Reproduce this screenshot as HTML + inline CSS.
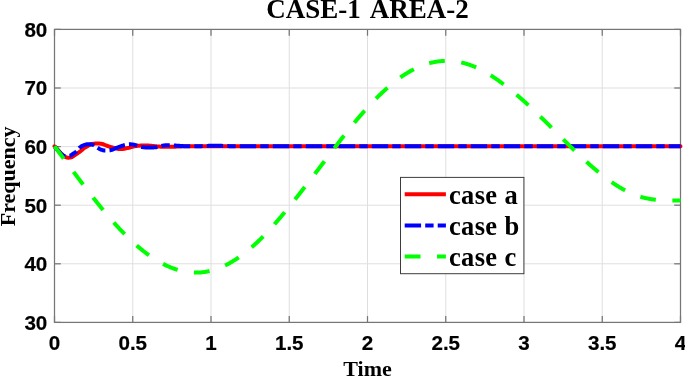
<!DOCTYPE html>
<html><head><meta charset="utf-8"><style>
html,body{margin:0;padding:0;background:#fff;width:685px;height:377px;overflow:hidden}
svg{display:block}
.w{will-change:transform}

</style></head><body><div class="w">
<svg width="685" height="377" viewBox="0 0 685 377">
<g>
<line x1="132.75" y1="29.4" x2="132.75" y2="322.4" stroke="#dfdfdf" stroke-width="1"/>
<line x1="211.0" y1="29.4" x2="211.0" y2="322.4" stroke="#dfdfdf" stroke-width="1"/>
<line x1="289.25" y1="29.4" x2="289.25" y2="322.4" stroke="#dfdfdf" stroke-width="1"/>
<line x1="367.5" y1="29.4" x2="367.5" y2="322.4" stroke="#dfdfdf" stroke-width="1"/>
<line x1="445.75" y1="29.4" x2="445.75" y2="322.4" stroke="#dfdfdf" stroke-width="1"/>
<line x1="524.0" y1="29.4" x2="524.0" y2="322.4" stroke="#dfdfdf" stroke-width="1"/>
<line x1="602.25" y1="29.4" x2="602.25" y2="322.4" stroke="#dfdfdf" stroke-width="1"/>
<line x1="54.5" y1="263.79999999999995" x2="680.5" y2="263.79999999999995" stroke="#dfdfdf" stroke-width="1"/>
<line x1="54.5" y1="205.2" x2="680.5" y2="205.2" stroke="#dfdfdf" stroke-width="1"/>
<line x1="54.5" y1="146.59999999999997" x2="680.5" y2="146.59999999999997" stroke="#dfdfdf" stroke-width="1"/>
<line x1="54.5" y1="87.99999999999997" x2="680.5" y2="87.99999999999997" stroke="#dfdfdf" stroke-width="1"/>
</g>
<g stroke="#767676" stroke-width="1.25" fill="none">
<rect x="54.5" y="29.4" width="626.0" height="293.0"/>
<line x1="54.5" y1="322.4" x2="54.5" y2="316.09999999999997"/>
<line x1="54.5" y1="29.4" x2="54.5" y2="35.699999999999996"/>
<line x1="132.75" y1="322.4" x2="132.75" y2="316.09999999999997"/>
<line x1="132.75" y1="29.4" x2="132.75" y2="35.699999999999996"/>
<line x1="211.0" y1="322.4" x2="211.0" y2="316.09999999999997"/>
<line x1="211.0" y1="29.4" x2="211.0" y2="35.699999999999996"/>
<line x1="289.25" y1="322.4" x2="289.25" y2="316.09999999999997"/>
<line x1="289.25" y1="29.4" x2="289.25" y2="35.699999999999996"/>
<line x1="367.5" y1="322.4" x2="367.5" y2="316.09999999999997"/>
<line x1="367.5" y1="29.4" x2="367.5" y2="35.699999999999996"/>
<line x1="445.75" y1="322.4" x2="445.75" y2="316.09999999999997"/>
<line x1="445.75" y1="29.4" x2="445.75" y2="35.699999999999996"/>
<line x1="524.0" y1="322.4" x2="524.0" y2="316.09999999999997"/>
<line x1="524.0" y1="29.4" x2="524.0" y2="35.699999999999996"/>
<line x1="602.25" y1="322.4" x2="602.25" y2="316.09999999999997"/>
<line x1="602.25" y1="29.4" x2="602.25" y2="35.699999999999996"/>
<line x1="680.5" y1="322.4" x2="680.5" y2="316.09999999999997"/>
<line x1="680.5" y1="29.4" x2="680.5" y2="35.699999999999996"/>
<line x1="54.5" y1="322.4" x2="60.8" y2="322.4"/>
<line x1="680.5" y1="322.4" x2="674.2" y2="322.4"/>
<line x1="54.5" y1="263.79999999999995" x2="60.8" y2="263.79999999999995"/>
<line x1="680.5" y1="263.79999999999995" x2="674.2" y2="263.79999999999995"/>
<line x1="54.5" y1="205.2" x2="60.8" y2="205.2"/>
<line x1="680.5" y1="205.2" x2="674.2" y2="205.2"/>
<line x1="54.5" y1="146.59999999999997" x2="60.8" y2="146.59999999999997"/>
<line x1="680.5" y1="146.59999999999997" x2="674.2" y2="146.59999999999997"/>
<line x1="54.5" y1="87.99999999999997" x2="60.8" y2="87.99999999999997"/>
<line x1="680.5" y1="87.99999999999997" x2="674.2" y2="87.99999999999997"/>
<line x1="54.5" y1="29.399999999999977" x2="60.8" y2="29.399999999999977"/>
<line x1="680.5" y1="29.399999999999977" x2="674.2" y2="29.399999999999977"/>
</g>
<g fill="none" stroke-width="4">
<path d="M54.50,146.30 L55.00,146.81 L55.50,147.33 L56.00,147.86 L56.50,148.39 L57.00,148.92 L57.50,149.46 L58.00,150.00 L58.50,150.56 L59.00,151.15 L59.50,151.74 L60.00,152.34 L60.50,152.93 L61.00,153.49 L61.50,154.02 L62.00,154.50 L62.50,154.96 L63.00,155.41 L63.50,155.83 L64.00,156.22 L64.50,156.55 L65.00,156.80 L65.50,157.01 L66.00,157.20 L66.50,157.38 L67.00,157.53 L67.50,157.64 L68.00,157.69 L68.50,157.69 L69.00,157.66 L69.50,157.61 L70.00,157.53 L70.50,157.43 L71.00,157.32 L71.50,157.20 L72.00,157.01 L72.50,156.71 L73.00,156.35 L73.50,155.97 L74.00,155.64 L74.50,155.32 L75.00,154.99 L75.50,154.67 L76.00,154.34 L76.50,154.01 L77.00,153.68 L77.50,153.33 L78.00,152.98 L78.50,152.63 L79.00,152.27 L79.50,151.90 L80.00,151.53 L80.50,151.15 L81.00,150.76 L81.50,150.35 L82.00,149.91 L82.50,149.46 L83.00,149.01 L83.50,148.58 L84.00,148.20 L84.50,147.86 L85.00,147.53 L85.50,147.23 L86.00,146.94 L86.50,146.66 L87.00,146.40 L87.50,146.14 L88.00,145.86 L88.50,145.58 L89.00,145.31 L89.50,145.04 L90.00,144.78 L90.50,144.54 L91.00,144.32 L91.50,144.13 L92.00,143.98 L92.50,143.86 L93.00,143.79 L93.50,143.73 L94.00,143.68 L94.50,143.64 L95.00,143.59 L95.50,143.56 L96.00,143.53 L96.50,143.51 L97.00,143.50 L97.50,143.50 L98.00,143.51 L98.50,143.53 L99.00,143.56 L99.50,143.60 L100.00,143.65 L100.50,143.71 L101.00,143.77 L101.50,143.83 L102.00,143.90 L102.50,144.00 L103.00,144.15 L103.50,144.34 L104.00,144.55 L104.50,144.77 L105.00,145.00 L105.50,145.21 L106.00,145.40 L106.50,145.57 L107.00,145.75 L107.50,145.93 L108.00,146.10 L108.50,146.27 L109.00,146.45 L109.50,146.61 L110.00,146.78 L110.50,146.94 L111.00,147.09 L111.50,147.24 L112.00,147.39 L112.50,147.52 L113.00,147.65 L113.50,147.77 L114.00,147.90 L114.50,148.03 L115.00,148.16 L115.50,148.29 L116.00,148.42 L116.50,148.54 L117.00,148.65 L117.50,148.76 L118.00,148.85 L118.50,148.94 L119.00,149.01 L119.50,149.06 L120.00,149.09 L120.50,149.10 L121.00,149.09 L121.50,149.07 L122.00,149.03 L122.50,148.97 L123.00,148.91 L123.50,148.83 L124.00,148.75 L124.50,148.66 L125.00,148.56 L125.50,148.46 L126.00,148.36 L126.50,148.26 L127.00,148.16 L127.50,148.06 L128.00,147.96 L128.50,147.86 L129.00,147.74 L129.50,147.61 L130.00,147.47 L130.50,147.33 L131.00,147.19 L131.50,147.04 L132.00,146.90 L132.50,146.76 L133.00,146.63 L133.50,146.51 L134.00,146.40 L134.50,146.30 L135.00,146.21 L135.50,146.14 L136.00,146.07 L136.50,146.00 L137.00,145.93 L137.50,145.86 L138.00,145.80 L138.50,145.75 L139.00,145.70 L139.50,145.66 L140.00,145.63 L140.50,145.61 L141.00,145.60 L141.50,145.60 L142.00,145.60 L142.50,145.60 L143.00,145.60 L143.50,145.60 L144.00,145.60 L144.50,145.60 L145.00,145.60 L145.50,145.60 L146.00,145.60 L146.50,145.60 L147.00,145.60 L147.50,145.60 L148.00,145.60 L148.50,145.61 L149.00,145.62 L149.50,145.65 L150.00,145.69 L150.50,145.73 L151.00,145.78 L151.50,145.83 L152.00,145.89 L152.50,145.94 L153.00,146.00 L153.50,146.06 L154.00,146.11 L154.50,146.16 L155.00,146.20 L155.50,146.24 L156.00,146.28 L156.50,146.33 L157.00,146.37 L157.50,146.41 L158.00,146.46 L158.50,146.50 L159.00,146.54 L159.50,146.57 L160.00,146.61 L160.50,146.64 L161.00,146.66 L161.50,146.69 L162.00,146.70 L162.50,146.71 L163.00,146.72 L163.50,146.73 L164.00,146.74 L164.50,146.75 L165.00,146.76 L165.50,146.77 L166.00,146.78 L166.50,146.78 L167.00,146.79 L167.50,146.79 L168.00,146.80 L168.50,146.80 L169.00,146.80 L169.50,146.80 L170.00,146.79 L170.50,146.79 L171.00,146.78 L171.50,146.77 L172.00,146.76 L172.50,146.74 L173.00,146.73 L173.50,146.71 L174.00,146.70 L174.50,146.68 L175.00,146.67 L175.50,146.65 L176.00,146.63 L176.50,146.62 L177.00,146.60 L177.50,146.58 L178.00,146.57 L178.50,146.55 L179.00,146.53 L179.50,146.50 L180.00,146.48 L180.50,146.46 L181.00,146.44 L181.50,146.41 L182.00,146.39 L182.50,146.37 L183.00,146.35 L183.50,146.34 L184.00,146.32 L184.50,146.31 L185.00,146.30 L185.50,146.29 L186.00,146.28 L186.50,146.28 L187.00,146.27 L187.50,146.26 L188.00,146.25 L188.50,146.25 L189.00,146.24 L189.50,146.24 L190.00,146.23 L190.50,146.22 L191.00,146.22 L191.50,146.22 L192.00,146.21 L192.50,146.21 L193.00,146.21 L193.50,146.20 L194.00,146.20 L194.50,146.20 L195.00,146.20 L195.50,146.20 L196.00,146.20 L196.50,146.20 L197.00,146.20 L197.50,146.20 L198.00,146.20 L198.50,146.20 L199.00,146.20 L199.50,146.20 L200.00,146.20 L200.50,146.20 L201.00,146.20 L201.50,146.20 L202.00,146.20 L202.50,146.20 L203.00,146.20 L203.50,146.20 L204.00,146.20 L204.50,146.20 L205.00,146.20 L205.50,146.20 L206.00,146.20 L206.50,146.20 L207.00,146.20 L207.50,146.20 L208.00,146.20 L208.50,146.20 L209.00,146.20 L209.50,146.20 L210.00,146.20 L210.50,146.20 L211.00,146.20 L211.50,146.20 L212.00,146.20 L212.50,146.20 L213.00,146.20 L213.50,146.20 L214.00,146.20 L214.50,146.20 L215.00,146.20 L215.50,146.20 L216.00,146.20 L216.50,146.20 L217.00,146.20 L217.50,146.20 L218.00,146.20 L218.50,146.20 L219.00,146.20 L219.50,146.20 L220.00,146.20 L220.50,146.20 L221.00,146.20 L221.50,146.20 L222.00,146.20 L222.50,146.20 L223.00,146.20 L223.50,146.20 L224.00,146.20 L224.50,146.20 L225.00,146.20 L225.50,146.20 L226.00,146.20 L226.50,146.20 L227.00,146.20 L227.50,146.20 L228.00,146.20 L228.50,146.20 L229.00,146.20 L229.50,146.20 L230.00,146.20 L230.50,146.20 L231.00,146.20 L231.50,146.20 L232.00,146.20 L232.50,146.20 L233.00,146.20 L233.50,146.20 L234.00,146.20 L234.50,146.20 L235.00,146.20 L235.50,146.20 L236.00,146.20 L236.50,146.20 L237.00,146.20 L237.50,146.20 L238.00,146.20 L238.50,146.20 L239.00,146.20 L239.50,146.20 L240.00,146.20 L240.50,146.20 L241.00,146.20 L241.50,146.20 L242.00,146.20 L242.50,146.20 L243.00,146.20 L243.50,146.20 L244.00,146.20 L244.50,146.20 L245.00,146.20 L245.50,146.20 L246.00,146.20 L246.50,146.20 L247.00,146.20 L247.50,146.20 L248.00,146.20 L248.50,146.20 L249.00,146.20 L249.50,146.20 L250.00,146.20 L250.50,146.20 L251.00,146.20 L251.50,146.20 L252.00,146.20 L252.50,146.20 L253.00,146.20 L253.50,146.20 L254.00,146.20 L254.50,146.20 L255.00,146.20 L255.50,146.20 L256.00,146.20 L256.50,146.20 L257.00,146.20 L257.50,146.20 L258.00,146.20 L258.50,146.20 L259.00,146.20 L259.50,146.20 L260.00,146.20 L260.50,146.20 L261.00,146.20 L261.50,146.20 L262.00,146.20 L262.50,146.20 L263.00,146.20 L263.50,146.20 L264.00,146.20 L264.50,146.20 L265.00,146.20 L265.50,146.20 L266.00,146.20 L266.50,146.20 L267.00,146.20 L267.50,146.20 L268.00,146.20 L268.50,146.20 L269.00,146.20 L269.50,146.20 L270.00,146.20 L270.50,146.20 L271.00,146.20 L271.50,146.20 L272.00,146.20 L272.50,146.20 L273.00,146.20 L273.50,146.20 L274.00,146.20 L274.50,146.20 L275.00,146.20 L275.50,146.20 L276.00,146.20 L276.50,146.20 L277.00,146.20 L277.50,146.20 L278.00,146.20 L278.50,146.20 L279.00,146.20 L279.50,146.20 L280.00,146.20 L280.50,146.20 L281.00,146.20 L281.50,146.20 L282.00,146.20 L282.50,146.20 L283.00,146.20 L283.50,146.20 L284.00,146.20 L284.50,146.20 L285.00,146.20 L285.50,146.20 L286.00,146.20 L286.50,146.20 L287.00,146.20 L287.50,146.20 L288.00,146.20 L288.50,146.20 L289.00,146.20 L289.50,146.20 L290.00,146.20 L290.50,146.20 L291.00,146.20 L291.50,146.20 L292.00,146.20 L292.50,146.20 L293.00,146.20 L293.50,146.20 L294.00,146.20 L294.50,146.20 L295.00,146.20 L295.50,146.20 L296.00,146.20 L296.50,146.20 L297.00,146.20 L297.50,146.20 L298.00,146.20 L298.50,146.20 L299.00,146.20 L299.50,146.20 L300.00,146.20 L300.50,146.20 L301.00,146.20 L301.50,146.20 L302.00,146.20 L302.50,146.20 L303.00,146.20 L303.50,146.20 L304.00,146.20 L304.50,146.20 L305.00,146.20 L305.50,146.20 L306.00,146.20 L306.50,146.20 L307.00,146.20 L307.50,146.20 L308.00,146.20 L308.50,146.20 L309.00,146.20 L309.50,146.20 L310.00,146.20 L310.50,146.20 L311.00,146.20 L311.50,146.20 L312.00,146.20 L312.50,146.20 L313.00,146.20 L313.50,146.20 L314.00,146.20 L314.50,146.20 L315.00,146.20 L315.50,146.20 L316.00,146.20 L316.50,146.20 L317.00,146.20 L317.50,146.20 L318.00,146.20 L318.50,146.20 L319.00,146.20 L319.50,146.20 L320.00,146.20 L320.50,146.20 L321.00,146.20 L321.50,146.20 L322.00,146.20 L322.50,146.20 L323.00,146.20 L323.50,146.20 L324.00,146.20 L324.50,146.20 L325.00,146.20 L325.50,146.20 L326.00,146.20 L326.50,146.20 L327.00,146.20 L327.50,146.20 L328.00,146.20 L328.50,146.20 L329.00,146.20 L329.50,146.20 L330.00,146.20 L330.50,146.20 L331.00,146.20 L331.50,146.20 L332.00,146.20 L332.50,146.20 L333.00,146.20 L333.50,146.20 L334.00,146.20 L334.50,146.20 L335.00,146.20 L335.50,146.20 L336.00,146.20 L336.50,146.20 L337.00,146.20 L337.50,146.20 L338.00,146.20 L338.50,146.20 L339.00,146.20 L339.50,146.20 L340.00,146.20 L340.50,146.20 L341.00,146.20 L341.50,146.20 L342.00,146.20 L342.50,146.20 L343.00,146.20 L343.50,146.20 L344.00,146.20 L344.50,146.20 L345.00,146.20 L345.50,146.20 L346.00,146.20 L346.50,146.20 L347.00,146.20 L347.50,146.20 L348.00,146.20 L348.50,146.20 L349.00,146.20 L349.50,146.20 L350.00,146.20 L350.50,146.20 L351.00,146.20 L351.50,146.20 L352.00,146.20 L352.50,146.20 L353.00,146.20 L353.50,146.20 L354.00,146.20 L354.50,146.20 L355.00,146.20 L355.50,146.20 L356.00,146.20 L356.50,146.20 L357.00,146.20 L357.50,146.20 L358.00,146.20 L358.50,146.20 L359.00,146.20 L359.50,146.20 L360.00,146.20 L360.50,146.20 L361.00,146.20 L361.50,146.20 L362.00,146.20 L362.50,146.20 L363.00,146.20 L363.50,146.20 L364.00,146.20 L364.50,146.20 L365.00,146.20 L365.50,146.20 L366.00,146.20 L366.50,146.20 L367.00,146.20 L367.50,146.20 L368.00,146.20 L368.50,146.20 L369.00,146.20 L369.50,146.20 L370.00,146.20 L370.50,146.20 L371.00,146.20 L371.50,146.20 L372.00,146.20 L372.50,146.20 L373.00,146.20 L373.50,146.20 L374.00,146.20 L374.50,146.20 L375.00,146.20 L375.50,146.20 L376.00,146.20 L376.50,146.20 L377.00,146.20 L377.50,146.20 L378.00,146.20 L378.50,146.20 L379.00,146.20 L379.50,146.20 L380.00,146.20 L380.50,146.20 L381.00,146.20 L381.50,146.20 L382.00,146.20 L382.50,146.20 L383.00,146.20 L383.50,146.20 L384.00,146.20 L384.50,146.20 L385.00,146.20 L385.50,146.20 L386.00,146.20 L386.50,146.20 L387.00,146.20 L387.50,146.20 L388.00,146.20 L388.50,146.20 L389.00,146.20 L389.50,146.20 L390.00,146.20 L390.50,146.20 L391.00,146.20 L391.50,146.20 L392.00,146.20 L392.50,146.20 L393.00,146.20 L393.50,146.20 L394.00,146.20 L394.50,146.20 L395.00,146.20 L395.50,146.20 L396.00,146.20 L396.50,146.20 L397.00,146.20 L397.50,146.20 L398.00,146.20 L398.50,146.20 L399.00,146.20 L399.50,146.20 L400.00,146.20 L400.50,146.20 L401.00,146.20 L401.50,146.20 L402.00,146.20 L402.50,146.20 L403.00,146.20 L403.50,146.20 L404.00,146.20 L404.50,146.20 L405.00,146.20 L405.50,146.20 L406.00,146.20 L406.50,146.20 L407.00,146.20 L407.50,146.20 L408.00,146.20 L408.50,146.20 L409.00,146.20 L409.50,146.20 L410.00,146.20 L410.50,146.20 L411.00,146.20 L411.50,146.20 L412.00,146.20 L412.50,146.20 L413.00,146.20 L413.50,146.20 L414.00,146.20 L414.50,146.20 L415.00,146.20 L415.50,146.20 L416.00,146.20 L416.50,146.20 L417.00,146.20 L417.50,146.20 L418.00,146.20 L418.50,146.20 L419.00,146.20 L419.50,146.20 L420.00,146.20 L420.50,146.20 L421.00,146.20 L421.50,146.20 L422.00,146.20 L422.50,146.20 L423.00,146.20 L423.50,146.20 L424.00,146.20 L424.50,146.20 L425.00,146.20 L425.50,146.20 L426.00,146.20 L426.50,146.20 L427.00,146.20 L427.50,146.20 L428.00,146.20 L428.50,146.20 L429.00,146.20 L429.50,146.20 L430.00,146.20 L430.50,146.20 L431.00,146.20 L431.50,146.20 L432.00,146.20 L432.50,146.20 L433.00,146.20 L433.50,146.20 L434.00,146.20 L434.50,146.20 L435.00,146.20 L435.50,146.20 L436.00,146.20 L436.50,146.20 L437.00,146.20 L437.50,146.20 L438.00,146.20 L438.50,146.20 L439.00,146.20 L439.50,146.20 L440.00,146.20 L440.50,146.20 L441.00,146.20 L441.50,146.20 L442.00,146.20 L442.50,146.20 L443.00,146.20 L443.50,146.20 L444.00,146.20 L444.50,146.20 L445.00,146.20 L445.50,146.20 L446.00,146.20 L446.50,146.20 L447.00,146.20 L447.50,146.20 L448.00,146.20 L448.50,146.20 L449.00,146.20 L449.50,146.20 L450.00,146.20 L450.50,146.20 L451.00,146.20 L451.50,146.20 L452.00,146.20 L452.50,146.20 L453.00,146.20 L453.50,146.20 L454.00,146.20 L454.50,146.20 L455.00,146.20 L455.50,146.20 L456.00,146.20 L456.50,146.20 L457.00,146.20 L457.50,146.20 L458.00,146.20 L458.50,146.20 L459.00,146.20 L459.50,146.20 L460.00,146.20 L460.50,146.20 L461.00,146.20 L461.50,146.20 L462.00,146.20 L462.50,146.20 L463.00,146.20 L463.50,146.20 L464.00,146.20 L464.50,146.20 L465.00,146.20 L465.50,146.20 L466.00,146.20 L466.50,146.20 L467.00,146.20 L467.50,146.20 L468.00,146.20 L468.50,146.20 L469.00,146.20 L469.50,146.20 L470.00,146.20 L470.50,146.20 L471.00,146.20 L471.50,146.20 L472.00,146.20 L472.50,146.20 L473.00,146.20 L473.50,146.20 L474.00,146.20 L474.50,146.20 L475.00,146.20 L475.50,146.20 L476.00,146.20 L476.50,146.20 L477.00,146.20 L477.50,146.20 L478.00,146.20 L478.50,146.20 L479.00,146.20 L479.50,146.20 L480.00,146.20 L480.50,146.20 L481.00,146.20 L481.50,146.20 L482.00,146.20 L482.50,146.20 L483.00,146.20 L483.50,146.20 L484.00,146.20 L484.50,146.20 L485.00,146.20 L485.50,146.20 L486.00,146.20 L486.50,146.20 L487.00,146.20 L487.50,146.20 L488.00,146.20 L488.50,146.20 L489.00,146.20 L489.50,146.20 L490.00,146.20 L490.50,146.20 L491.00,146.20 L491.50,146.20 L492.00,146.20 L492.50,146.20 L493.00,146.20 L493.50,146.20 L494.00,146.20 L494.50,146.20 L495.00,146.20 L495.50,146.20 L496.00,146.20 L496.50,146.20 L497.00,146.20 L497.50,146.20 L498.00,146.20 L498.50,146.20 L499.00,146.20 L499.50,146.20 L500.00,146.20 L500.50,146.20 L501.00,146.20 L501.50,146.20 L502.00,146.20 L502.50,146.20 L503.00,146.20 L503.50,146.20 L504.00,146.20 L504.50,146.20 L505.00,146.20 L505.50,146.20 L506.00,146.20 L506.50,146.20 L507.00,146.20 L507.50,146.20 L508.00,146.20 L508.50,146.20 L509.00,146.20 L509.50,146.20 L510.00,146.20 L510.50,146.20 L511.00,146.20 L511.50,146.20 L512.00,146.20 L512.50,146.20 L513.00,146.20 L513.50,146.20 L514.00,146.20 L514.50,146.20 L515.00,146.20 L515.50,146.20 L516.00,146.20 L516.50,146.20 L517.00,146.20 L517.50,146.20 L518.00,146.20 L518.50,146.20 L519.00,146.20 L519.50,146.20 L520.00,146.20 L520.50,146.20 L521.00,146.20 L521.50,146.20 L522.00,146.20 L522.50,146.20 L523.00,146.20 L523.50,146.20 L524.00,146.20 L524.50,146.20 L525.00,146.20 L525.50,146.20 L526.00,146.20 L526.50,146.20 L527.00,146.20 L527.50,146.20 L528.00,146.20 L528.50,146.20 L529.00,146.20 L529.50,146.20 L530.00,146.20 L530.50,146.20 L531.00,146.20 L531.50,146.20 L532.00,146.20 L532.50,146.20 L533.00,146.20 L533.50,146.20 L534.00,146.20 L534.50,146.20 L535.00,146.20 L535.50,146.20 L536.00,146.20 L536.50,146.20 L537.00,146.20 L537.50,146.20 L538.00,146.20 L538.50,146.20 L539.00,146.20 L539.50,146.20 L540.00,146.20 L540.50,146.20 L541.00,146.20 L541.50,146.20 L542.00,146.20 L542.50,146.20 L543.00,146.20 L543.50,146.20 L544.00,146.20 L544.50,146.20 L545.00,146.20 L545.50,146.20 L546.00,146.20 L546.50,146.20 L547.00,146.20 L547.50,146.20 L548.00,146.20 L548.50,146.20 L549.00,146.20 L549.50,146.20 L550.00,146.20 L550.50,146.20 L551.00,146.20 L551.50,146.20 L552.00,146.20 L552.50,146.20 L553.00,146.20 L553.50,146.20 L554.00,146.20 L554.50,146.20 L555.00,146.20 L555.50,146.20 L556.00,146.20 L556.50,146.20 L557.00,146.20 L557.50,146.20 L558.00,146.20 L558.50,146.20 L559.00,146.20 L559.50,146.20 L560.00,146.20 L560.50,146.20 L561.00,146.20 L561.50,146.20 L562.00,146.20 L562.50,146.20 L563.00,146.20 L563.50,146.20 L564.00,146.20 L564.50,146.20 L565.00,146.20 L565.50,146.20 L566.00,146.20 L566.50,146.20 L567.00,146.20 L567.50,146.20 L568.00,146.20 L568.50,146.20 L569.00,146.20 L569.50,146.20 L570.00,146.20 L570.50,146.20 L571.00,146.20 L571.50,146.20 L572.00,146.20 L572.50,146.20 L573.00,146.20 L573.50,146.20 L574.00,146.20 L574.50,146.20 L575.00,146.20 L575.50,146.20 L576.00,146.20 L576.50,146.20 L577.00,146.20 L577.50,146.20 L578.00,146.20 L578.50,146.20 L579.00,146.20 L579.50,146.20 L580.00,146.20 L580.50,146.20 L581.00,146.20 L581.50,146.20 L582.00,146.20 L582.50,146.20 L583.00,146.20 L583.50,146.20 L584.00,146.20 L584.50,146.20 L585.00,146.20 L585.50,146.20 L586.00,146.20 L586.50,146.20 L587.00,146.20 L587.50,146.20 L588.00,146.20 L588.50,146.20 L589.00,146.20 L589.50,146.20 L590.00,146.20 L590.50,146.20 L591.00,146.20 L591.50,146.20 L592.00,146.20 L592.50,146.20 L593.00,146.20 L593.50,146.20 L594.00,146.20 L594.50,146.20 L595.00,146.20 L595.50,146.20 L596.00,146.20 L596.50,146.20 L597.00,146.20 L597.50,146.20 L598.00,146.20 L598.50,146.20 L599.00,146.20 L599.50,146.20 L600.00,146.20 L600.50,146.20 L601.00,146.20 L601.50,146.20 L602.00,146.20 L602.50,146.20 L603.00,146.20 L603.50,146.20 L604.00,146.20 L604.50,146.20 L605.00,146.20 L605.50,146.20 L606.00,146.20 L606.50,146.20 L607.00,146.20 L607.50,146.20 L608.00,146.20 L608.50,146.20 L609.00,146.20 L609.50,146.20 L610.00,146.20 L610.50,146.20 L611.00,146.20 L611.50,146.20 L612.00,146.20 L612.50,146.20 L613.00,146.20 L613.50,146.20 L614.00,146.20 L614.50,146.20 L615.00,146.20 L615.50,146.20 L616.00,146.20 L616.50,146.20 L617.00,146.20 L617.50,146.20 L618.00,146.20 L618.50,146.20 L619.00,146.20 L619.50,146.20 L620.00,146.20 L620.50,146.20 L621.00,146.20 L621.50,146.20 L622.00,146.20 L622.50,146.20 L623.00,146.20 L623.50,146.20 L624.00,146.20 L624.50,146.20 L625.00,146.20 L625.50,146.20 L626.00,146.20 L626.50,146.20 L627.00,146.20 L627.50,146.20 L628.00,146.20 L628.50,146.20 L629.00,146.20 L629.50,146.20 L630.00,146.20 L630.50,146.20 L631.00,146.20 L631.50,146.20 L632.00,146.20 L632.50,146.20 L633.00,146.20 L633.50,146.20 L634.00,146.20 L634.50,146.20 L635.00,146.20 L635.50,146.20 L636.00,146.20 L636.50,146.20 L637.00,146.20 L637.50,146.20 L638.00,146.20 L638.50,146.20 L639.00,146.20 L639.50,146.20 L640.00,146.20 L640.50,146.20 L641.00,146.20 L641.50,146.20 L642.00,146.20 L642.50,146.20 L643.00,146.20 L643.50,146.20 L644.00,146.20 L644.50,146.20 L645.00,146.20 L645.50,146.20 L646.00,146.20 L646.50,146.20 L647.00,146.20 L647.50,146.20 L648.00,146.20 L648.50,146.20 L649.00,146.20 L649.50,146.20 L650.00,146.20 L650.50,146.20 L651.00,146.20 L651.50,146.20 L652.00,146.20 L652.50,146.20 L653.00,146.20 L653.50,146.20 L654.00,146.20 L654.50,146.20 L655.00,146.20 L655.50,146.20 L656.00,146.20 L656.50,146.20 L657.00,146.20 L657.50,146.20 L658.00,146.20 L658.50,146.20 L659.00,146.20 L659.50,146.20 L660.00,146.20 L660.50,146.20 L661.00,146.20 L661.50,146.20 L662.00,146.20 L662.50,146.20 L663.00,146.20 L663.50,146.20 L664.00,146.20 L664.50,146.20 L665.00,146.20 L665.50,146.20 L666.00,146.20 L666.50,146.20 L667.00,146.20 L667.50,146.20 L668.00,146.20 L668.50,146.20 L669.00,146.20 L669.50,146.20 L670.00,146.20 L670.50,146.20 L671.00,146.20 L671.50,146.20 L672.00,146.20 L672.50,146.20 L673.00,146.20 L673.50,146.20 L674.00,146.20 L674.50,146.20 L675.00,146.20 L675.50,146.20 L676.00,146.20 L676.50,146.20 L677.00,146.20 L677.50,146.20 L678.00,146.20 L678.50,146.20 L679.00,146.20 L679.50,146.20 L680.00,146.20 L680.50,146.20" stroke="#ff0000" stroke-linejoin="round" stroke-linecap="round"/>
<path d="M54.50,146.30 L55.00,146.94 L55.50,147.57 L56.00,148.18 L56.50,148.79 L57.00,149.37 L57.50,149.94 L58.00,150.50 L58.50,151.05 L59.00,151.62 L59.50,152.18 L60.00,152.72 L60.50,153.24 L61.00,153.71 L61.50,154.14 L62.00,154.50 L62.50,154.83 L63.00,155.17 L63.50,155.49 L64.00,155.77 L64.50,156.00 L65.00,156.15 L65.50,156.20 L66.00,156.19 L66.50,156.18 L67.00,156.15 L67.50,156.10 L68.00,156.05 L68.50,155.99 L69.00,155.93 L69.50,155.85 L70.00,155.76 L70.50,155.56 L71.00,155.27 L71.50,154.92 L72.00,154.54 L72.50,154.15 L73.00,153.80 L73.50,153.48 L74.00,153.17 L74.50,152.86 L75.00,152.53 L75.50,152.19 L76.00,151.81 L76.50,151.40 L77.00,150.89 L77.50,150.28 L78.00,149.60 L78.50,148.93 L79.00,148.30 L79.50,147.77 L80.00,147.36 L80.50,146.99 L81.00,146.63 L81.50,146.30 L82.00,146.00 L82.50,145.72 L83.00,145.48 L83.50,145.27 L84.00,145.10 L84.50,144.95 L85.00,144.81 L85.50,144.67 L86.00,144.54 L86.50,144.43 L87.00,144.33 L87.50,144.26 L88.00,144.22 L88.50,144.20 L89.00,144.21 L89.50,144.24 L90.00,144.29 L90.50,144.35 L91.00,144.43 L91.50,144.52 L92.00,144.62 L92.50,144.73 L93.00,144.85 L93.50,144.97 L94.00,145.14 L94.50,145.40 L95.00,145.73 L95.50,146.12 L96.00,146.54 L96.50,146.96 L97.00,147.37 L97.50,147.75 L98.00,148.06 L98.50,148.35 L99.00,148.64 L99.50,148.92 L100.00,149.19 L100.50,149.43 L101.00,149.63 L101.50,149.80 L102.00,149.94 L102.50,150.08 L103.00,150.22 L103.50,150.33 L104.00,150.42 L104.50,150.48 L105.00,150.50 L105.50,150.50 L106.00,150.48 L106.50,150.47 L107.00,150.45 L107.50,150.42 L108.00,150.40 L108.50,150.37 L109.00,150.34 L109.50,150.29 L110.00,150.24 L110.50,150.17 L111.00,150.08 L111.50,149.95 L112.00,149.79 L112.50,149.61 L113.00,149.42 L113.50,149.21 L114.00,148.99 L114.50,148.76 L115.00,148.53 L115.50,148.31 L116.00,148.09 L116.50,147.89 L117.00,147.70 L117.50,147.52 L118.00,147.33 L118.50,147.15 L119.00,146.96 L119.50,146.77 L120.00,146.58 L120.50,146.40 L121.00,146.22 L121.50,146.04 L122.00,145.87 L122.50,145.70 L123.00,145.54 L123.50,145.39 L124.00,145.25 L124.50,145.12 L125.00,145.00 L125.50,144.87 L126.00,144.74 L126.50,144.62 L127.00,144.50 L127.50,144.39 L128.00,144.31 L128.50,144.24 L129.00,144.21 L129.50,144.20 L130.00,144.22 L130.50,144.26 L131.00,144.31 L131.50,144.38 L132.00,144.45 L132.50,144.53 L133.00,144.60 L133.50,144.68 L134.00,144.77 L134.50,144.88 L135.00,144.99 L135.50,145.11 L136.00,145.24 L136.50,145.37 L137.00,145.50 L137.50,145.64 L138.00,145.81 L138.50,145.99 L139.00,146.17 L139.50,146.36 L140.00,146.54 L140.50,146.70 L141.00,146.85 L141.50,146.96 L142.00,147.05 L142.50,147.13 L143.00,147.21 L143.50,147.27 L144.00,147.33 L144.50,147.37 L145.00,147.40 L145.50,147.42 L146.00,147.43 L146.50,147.45 L147.00,147.46 L147.50,147.47 L148.00,147.48 L148.50,147.49 L149.00,147.50 L149.50,147.50 L150.00,147.50 L150.50,147.50 L151.00,147.49 L151.50,147.48 L152.00,147.46 L152.50,147.44 L153.00,147.42 L153.50,147.39 L154.00,147.36 L154.50,147.32 L155.00,147.28 L155.50,147.24 L156.00,147.20 L156.50,147.15 L157.00,147.10 L157.50,147.02 L158.00,146.91 L158.50,146.76 L159.00,146.59 L159.50,146.42 L160.00,146.26 L160.50,146.11 L161.00,146.00 L161.50,145.90 L162.00,145.81 L162.50,145.71 L163.00,145.62 L163.50,145.53 L164.00,145.46 L164.50,145.39 L165.00,145.34 L165.50,145.31 L166.00,145.30 L166.50,145.30 L167.00,145.30 L167.50,145.30 L168.00,145.30 L168.50,145.30 L169.00,145.30 L169.50,145.30 L170.00,145.30 L170.50,145.30 L171.00,145.31 L171.50,145.33 L172.00,145.35 L172.50,145.38 L173.00,145.41 L173.50,145.44 L174.00,145.47 L174.50,145.51 L175.00,145.54 L175.50,145.57 L176.00,145.60 L176.50,145.63 L177.00,145.66 L177.50,145.70 L178.00,145.74 L178.50,145.78 L179.00,145.82 L179.50,145.86 L180.00,145.90 L180.50,145.94 L181.00,145.98 L181.50,146.02 L182.00,146.06 L182.50,146.09 L183.00,146.12 L183.50,146.15 L184.00,146.17 L184.50,146.19 L185.00,146.20 L185.50,146.21 L186.00,146.22 L186.50,146.23 L187.00,146.23 L187.50,146.24 L188.00,146.25 L188.50,146.25 L189.00,146.26 L189.50,146.27 L190.00,146.27 L190.50,146.28 L191.00,146.28 L191.50,146.29 L192.00,146.29 L192.50,146.29 L193.00,146.30 L193.50,146.30 L194.00,146.30 L194.50,146.30 L195.00,146.30 L195.50,146.30 L196.00,146.29 L196.50,146.29 L197.00,146.28 L197.50,146.27 L198.00,146.26 L198.50,146.24 L199.00,146.22 L199.50,146.21 L200.00,146.19 L200.50,146.17 L201.00,146.15 L201.50,146.13 L202.00,146.11 L202.50,146.09 L203.00,146.07 L203.50,146.05 L204.00,146.03 L204.50,146.02 L205.00,146.00 L205.50,145.98 L206.00,145.96 L206.50,145.94 L207.00,145.92 L207.50,145.90 L208.00,145.88 L208.50,145.86 L209.00,145.84 L209.50,145.81 L210.00,145.79 L210.50,145.77 L211.00,145.76 L211.50,145.74 L212.00,145.73 L212.50,145.72 L213.00,145.71 L213.50,145.70 L214.00,145.70 L214.50,145.70 L215.00,145.70 L215.50,145.71 L216.00,145.72 L216.50,145.72 L217.00,145.73 L217.50,145.75 L218.00,145.76 L218.50,145.77 L219.00,145.78 L219.50,145.80 L220.00,145.81 L220.50,145.83 L221.00,145.84 L221.50,145.86 L222.00,145.87 L222.50,145.89 L223.00,145.90 L223.50,145.91 L224.00,145.93 L224.50,145.95 L225.00,145.97 L225.50,145.99 L226.00,146.01 L226.50,146.04 L227.00,146.06 L227.50,146.08 L228.00,146.10 L228.50,146.12 L229.00,146.14 L229.50,146.16 L230.00,146.17 L230.50,146.18 L231.00,146.19 L231.50,146.20 L232.00,146.20 L232.50,146.20 L233.00,146.20 L233.50,146.20 L234.00,146.20 L234.50,146.20 L235.00,146.20 L235.50,146.20 L236.00,146.20 L236.50,146.20 L237.00,146.20 L237.50,146.20 L238.00,146.20 L238.50,146.20 L239.00,146.20 L239.50,146.20 L240.00,146.20 L240.50,146.20 L241.00,146.20 L241.50,146.20 L242.00,146.20 L242.50,146.20 L243.00,146.20 L243.50,146.20 L244.00,146.20 L244.50,146.20 L245.00,146.20 L245.50,146.20 L246.00,146.20 L246.50,146.20 L247.00,146.20 L247.50,146.20 L248.00,146.20 L248.50,146.20 L249.00,146.20 L249.50,146.20 L250.00,146.20 L250.50,146.20 L251.00,146.20 L251.50,146.20 L252.00,146.20 L252.50,146.20 L253.00,146.20 L253.50,146.20 L254.00,146.20 L254.50,146.20 L255.00,146.20 L255.50,146.20 L256.00,146.20 L256.50,146.20 L257.00,146.20 L257.50,146.20 L258.00,146.20 L258.50,146.20 L259.00,146.20 L259.50,146.20 L260.00,146.20 L260.50,146.20 L261.00,146.20 L261.50,146.20 L262.00,146.20 L262.50,146.20 L263.00,146.20 L263.50,146.20 L264.00,146.20 L264.50,146.20 L265.00,146.20 L265.50,146.20 L266.00,146.20 L266.50,146.20 L267.00,146.20 L267.50,146.20 L268.00,146.20 L268.50,146.20 L269.00,146.20 L269.50,146.20 L270.00,146.20 L270.50,146.20 L271.00,146.20 L271.50,146.20 L272.00,146.20 L272.50,146.20 L273.00,146.20 L273.50,146.20 L274.00,146.20 L274.50,146.20 L275.00,146.20 L275.50,146.20 L276.00,146.20 L276.50,146.20 L277.00,146.20 L277.50,146.20 L278.00,146.20 L278.50,146.20 L279.00,146.20 L279.50,146.20 L280.00,146.20 L280.50,146.20 L281.00,146.20 L281.50,146.20 L282.00,146.20 L282.50,146.20 L283.00,146.20 L283.50,146.20 L284.00,146.20 L284.50,146.20 L285.00,146.20 L285.50,146.20 L286.00,146.20 L286.50,146.20 L287.00,146.20 L287.50,146.20 L288.00,146.20 L288.50,146.20 L289.00,146.20 L289.50,146.20 L290.00,146.20 L290.50,146.20 L291.00,146.20 L291.50,146.20 L292.00,146.20 L292.50,146.20 L293.00,146.20 L293.50,146.20 L294.00,146.20 L294.50,146.20 L295.00,146.20 L295.50,146.20 L296.00,146.20 L296.50,146.20 L297.00,146.20 L297.50,146.20 L298.00,146.20 L298.50,146.20 L299.00,146.20 L299.50,146.20 L300.00,146.20 L300.50,146.20 L301.00,146.20 L301.50,146.20 L302.00,146.20 L302.50,146.20 L303.00,146.20 L303.50,146.20 L304.00,146.20 L304.50,146.20 L305.00,146.20 L305.50,146.20 L306.00,146.20 L306.50,146.20 L307.00,146.20 L307.50,146.20 L308.00,146.20 L308.50,146.20 L309.00,146.20 L309.50,146.20 L310.00,146.20 L310.50,146.20 L311.00,146.20 L311.50,146.20 L312.00,146.20 L312.50,146.20 L313.00,146.20 L313.50,146.20 L314.00,146.20 L314.50,146.20 L315.00,146.20 L315.50,146.20 L316.00,146.20 L316.50,146.20 L317.00,146.20 L317.50,146.20 L318.00,146.20 L318.50,146.20 L319.00,146.20 L319.50,146.20 L320.00,146.20 L320.50,146.20 L321.00,146.20 L321.50,146.20 L322.00,146.20 L322.50,146.20 L323.00,146.20 L323.50,146.20 L324.00,146.20 L324.50,146.20 L325.00,146.20 L325.50,146.20 L326.00,146.20 L326.50,146.20 L327.00,146.20 L327.50,146.20 L328.00,146.20 L328.50,146.20 L329.00,146.20 L329.50,146.20 L330.00,146.20 L330.50,146.20 L331.00,146.20 L331.50,146.20 L332.00,146.20 L332.50,146.20 L333.00,146.20 L333.50,146.20 L334.00,146.20 L334.50,146.20 L335.00,146.20 L335.50,146.20 L336.00,146.20 L336.50,146.20 L337.00,146.20 L337.50,146.20 L338.00,146.20 L338.50,146.20 L339.00,146.20 L339.50,146.20 L340.00,146.20 L340.50,146.20 L341.00,146.20 L341.50,146.20 L342.00,146.20 L342.50,146.20 L343.00,146.20 L343.50,146.20 L344.00,146.20 L344.50,146.20 L345.00,146.20 L345.50,146.20 L346.00,146.20 L346.50,146.20 L347.00,146.20 L347.50,146.20 L348.00,146.20 L348.50,146.20 L349.00,146.20 L349.50,146.20 L350.00,146.20 L350.50,146.20 L351.00,146.20 L351.50,146.20 L352.00,146.20 L352.50,146.20 L353.00,146.20 L353.50,146.20 L354.00,146.20 L354.50,146.20 L355.00,146.20 L355.50,146.20 L356.00,146.20 L356.50,146.20 L357.00,146.20 L357.50,146.20 L358.00,146.20 L358.50,146.20 L359.00,146.20 L359.50,146.20 L360.00,146.20 L360.50,146.20 L361.00,146.20 L361.50,146.20 L362.00,146.20 L362.50,146.20 L363.00,146.20 L363.50,146.20 L364.00,146.20 L364.50,146.20 L365.00,146.20 L365.50,146.20 L366.00,146.20 L366.50,146.20 L367.00,146.20 L367.50,146.20 L368.00,146.20 L368.50,146.20 L369.00,146.20 L369.50,146.20 L370.00,146.20 L370.50,146.20 L371.00,146.20 L371.50,146.20 L372.00,146.20 L372.50,146.20 L373.00,146.20 L373.50,146.20 L374.00,146.20 L374.50,146.20 L375.00,146.20 L375.50,146.20 L376.00,146.20 L376.50,146.20 L377.00,146.20 L377.50,146.20 L378.00,146.20 L378.50,146.20 L379.00,146.20 L379.50,146.20 L380.00,146.20 L380.50,146.20 L381.00,146.20 L381.50,146.20 L382.00,146.20 L382.50,146.20 L383.00,146.20 L383.50,146.20 L384.00,146.20 L384.50,146.20 L385.00,146.20 L385.50,146.20 L386.00,146.20 L386.50,146.20 L387.00,146.20 L387.50,146.20 L388.00,146.20 L388.50,146.20 L389.00,146.20 L389.50,146.20 L390.00,146.20 L390.50,146.20 L391.00,146.20 L391.50,146.20 L392.00,146.20 L392.50,146.20 L393.00,146.20 L393.50,146.20 L394.00,146.20 L394.50,146.20 L395.00,146.20 L395.50,146.20 L396.00,146.20 L396.50,146.20 L397.00,146.20 L397.50,146.20 L398.00,146.20 L398.50,146.20 L399.00,146.20 L399.50,146.20 L400.00,146.20 L400.50,146.20 L401.00,146.20 L401.50,146.20 L402.00,146.20 L402.50,146.20 L403.00,146.20 L403.50,146.20 L404.00,146.20 L404.50,146.20 L405.00,146.20 L405.50,146.20 L406.00,146.20 L406.50,146.20 L407.00,146.20 L407.50,146.20 L408.00,146.20 L408.50,146.20 L409.00,146.20 L409.50,146.20 L410.00,146.20 L410.50,146.20 L411.00,146.20 L411.50,146.20 L412.00,146.20 L412.50,146.20 L413.00,146.20 L413.50,146.20 L414.00,146.20 L414.50,146.20 L415.00,146.20 L415.50,146.20 L416.00,146.20 L416.50,146.20 L417.00,146.20 L417.50,146.20 L418.00,146.20 L418.50,146.20 L419.00,146.20 L419.50,146.20 L420.00,146.20 L420.50,146.20 L421.00,146.20 L421.50,146.20 L422.00,146.20 L422.50,146.20 L423.00,146.20 L423.50,146.20 L424.00,146.20 L424.50,146.20 L425.00,146.20 L425.50,146.20 L426.00,146.20 L426.50,146.20 L427.00,146.20 L427.50,146.20 L428.00,146.20 L428.50,146.20 L429.00,146.20 L429.50,146.20 L430.00,146.20 L430.50,146.20 L431.00,146.20 L431.50,146.20 L432.00,146.20 L432.50,146.20 L433.00,146.20 L433.50,146.20 L434.00,146.20 L434.50,146.20 L435.00,146.20 L435.50,146.20 L436.00,146.20 L436.50,146.20 L437.00,146.20 L437.50,146.20 L438.00,146.20 L438.50,146.20 L439.00,146.20 L439.50,146.20 L440.00,146.20 L440.50,146.20 L441.00,146.20 L441.50,146.20 L442.00,146.20 L442.50,146.20 L443.00,146.20 L443.50,146.20 L444.00,146.20 L444.50,146.20 L445.00,146.20 L445.50,146.20 L446.00,146.20 L446.50,146.20 L447.00,146.20 L447.50,146.20 L448.00,146.20 L448.50,146.20 L449.00,146.20 L449.50,146.20 L450.00,146.20 L450.50,146.20 L451.00,146.20 L451.50,146.20 L452.00,146.20 L452.50,146.20 L453.00,146.20 L453.50,146.20 L454.00,146.20 L454.50,146.20 L455.00,146.20 L455.50,146.20 L456.00,146.20 L456.50,146.20 L457.00,146.20 L457.50,146.20 L458.00,146.20 L458.50,146.20 L459.00,146.20 L459.50,146.20 L460.00,146.20 L460.50,146.20 L461.00,146.20 L461.50,146.20 L462.00,146.20 L462.50,146.20 L463.00,146.20 L463.50,146.20 L464.00,146.20 L464.50,146.20 L465.00,146.20 L465.50,146.20 L466.00,146.20 L466.50,146.20 L467.00,146.20 L467.50,146.20 L468.00,146.20 L468.50,146.20 L469.00,146.20 L469.50,146.20 L470.00,146.20 L470.50,146.20 L471.00,146.20 L471.50,146.20 L472.00,146.20 L472.50,146.20 L473.00,146.20 L473.50,146.20 L474.00,146.20 L474.50,146.20 L475.00,146.20 L475.50,146.20 L476.00,146.20 L476.50,146.20 L477.00,146.20 L477.50,146.20 L478.00,146.20 L478.50,146.20 L479.00,146.20 L479.50,146.20 L480.00,146.20 L480.50,146.20 L481.00,146.20 L481.50,146.20 L482.00,146.20 L482.50,146.20 L483.00,146.20 L483.50,146.20 L484.00,146.20 L484.50,146.20 L485.00,146.20 L485.50,146.20 L486.00,146.20 L486.50,146.20 L487.00,146.20 L487.50,146.20 L488.00,146.20 L488.50,146.20 L489.00,146.20 L489.50,146.20 L490.00,146.20 L490.50,146.20 L491.00,146.20 L491.50,146.20 L492.00,146.20 L492.50,146.20 L493.00,146.20 L493.50,146.20 L494.00,146.20 L494.50,146.20 L495.00,146.20 L495.50,146.20 L496.00,146.20 L496.50,146.20 L497.00,146.20 L497.50,146.20 L498.00,146.20 L498.50,146.20 L499.00,146.20 L499.50,146.20 L500.00,146.20 L500.50,146.20 L501.00,146.20 L501.50,146.20 L502.00,146.20 L502.50,146.20 L503.00,146.20 L503.50,146.20 L504.00,146.20 L504.50,146.20 L505.00,146.20 L505.50,146.20 L506.00,146.20 L506.50,146.20 L507.00,146.20 L507.50,146.20 L508.00,146.20 L508.50,146.20 L509.00,146.20 L509.50,146.20 L510.00,146.20 L510.50,146.20 L511.00,146.20 L511.50,146.20 L512.00,146.20 L512.50,146.20 L513.00,146.20 L513.50,146.20 L514.00,146.20 L514.50,146.20 L515.00,146.20 L515.50,146.20 L516.00,146.20 L516.50,146.20 L517.00,146.20 L517.50,146.20 L518.00,146.20 L518.50,146.20 L519.00,146.20 L519.50,146.20 L520.00,146.20 L520.50,146.20 L521.00,146.20 L521.50,146.20 L522.00,146.20 L522.50,146.20 L523.00,146.20 L523.50,146.20 L524.00,146.20 L524.50,146.20 L525.00,146.20 L525.50,146.20 L526.00,146.20 L526.50,146.20 L527.00,146.20 L527.50,146.20 L528.00,146.20 L528.50,146.20 L529.00,146.20 L529.50,146.20 L530.00,146.20 L530.50,146.20 L531.00,146.20 L531.50,146.20 L532.00,146.20 L532.50,146.20 L533.00,146.20 L533.50,146.20 L534.00,146.20 L534.50,146.20 L535.00,146.20 L535.50,146.20 L536.00,146.20 L536.50,146.20 L537.00,146.20 L537.50,146.20 L538.00,146.20 L538.50,146.20 L539.00,146.20 L539.50,146.20 L540.00,146.20 L540.50,146.20 L541.00,146.20 L541.50,146.20 L542.00,146.20 L542.50,146.20 L543.00,146.20 L543.50,146.20 L544.00,146.20 L544.50,146.20 L545.00,146.20 L545.50,146.20 L546.00,146.20 L546.50,146.20 L547.00,146.20 L547.50,146.20 L548.00,146.20 L548.50,146.20 L549.00,146.20 L549.50,146.20 L550.00,146.20 L550.50,146.20 L551.00,146.20 L551.50,146.20 L552.00,146.20 L552.50,146.20 L553.00,146.20 L553.50,146.20 L554.00,146.20 L554.50,146.20 L555.00,146.20 L555.50,146.20 L556.00,146.20 L556.50,146.20 L557.00,146.20 L557.50,146.20 L558.00,146.20 L558.50,146.20 L559.00,146.20 L559.50,146.20 L560.00,146.20 L560.50,146.20 L561.00,146.20 L561.50,146.20 L562.00,146.20 L562.50,146.20 L563.00,146.20 L563.50,146.20 L564.00,146.20 L564.50,146.20 L565.00,146.20 L565.50,146.20 L566.00,146.20 L566.50,146.20 L567.00,146.20 L567.50,146.20 L568.00,146.20 L568.50,146.20 L569.00,146.20 L569.50,146.20 L570.00,146.20 L570.50,146.20 L571.00,146.20 L571.50,146.20 L572.00,146.20 L572.50,146.20 L573.00,146.20 L573.50,146.20 L574.00,146.20 L574.50,146.20 L575.00,146.20 L575.50,146.20 L576.00,146.20 L576.50,146.20 L577.00,146.20 L577.50,146.20 L578.00,146.20 L578.50,146.20 L579.00,146.20 L579.50,146.20 L580.00,146.20 L580.50,146.20 L581.00,146.20 L581.50,146.20 L582.00,146.20 L582.50,146.20 L583.00,146.20 L583.50,146.20 L584.00,146.20 L584.50,146.20 L585.00,146.20 L585.50,146.20 L586.00,146.20 L586.50,146.20 L587.00,146.20 L587.50,146.20 L588.00,146.20 L588.50,146.20 L589.00,146.20 L589.50,146.20 L590.00,146.20 L590.50,146.20 L591.00,146.20 L591.50,146.20 L592.00,146.20 L592.50,146.20 L593.00,146.20 L593.50,146.20 L594.00,146.20 L594.50,146.20 L595.00,146.20 L595.50,146.20 L596.00,146.20 L596.50,146.20 L597.00,146.20 L597.50,146.20 L598.00,146.20 L598.50,146.20 L599.00,146.20 L599.50,146.20 L600.00,146.20 L600.50,146.20 L601.00,146.20 L601.50,146.20 L602.00,146.20 L602.50,146.20 L603.00,146.20 L603.50,146.20 L604.00,146.20 L604.50,146.20 L605.00,146.20 L605.50,146.20 L606.00,146.20 L606.50,146.20 L607.00,146.20 L607.50,146.20 L608.00,146.20 L608.50,146.20 L609.00,146.20 L609.50,146.20 L610.00,146.20 L610.50,146.20 L611.00,146.20 L611.50,146.20 L612.00,146.20 L612.50,146.20 L613.00,146.20 L613.50,146.20 L614.00,146.20 L614.50,146.20 L615.00,146.20 L615.50,146.20 L616.00,146.20 L616.50,146.20 L617.00,146.20 L617.50,146.20 L618.00,146.20 L618.50,146.20 L619.00,146.20 L619.50,146.20 L620.00,146.20 L620.50,146.20 L621.00,146.20 L621.50,146.20 L622.00,146.20 L622.50,146.20 L623.00,146.20 L623.50,146.20 L624.00,146.20 L624.50,146.20 L625.00,146.20 L625.50,146.20 L626.00,146.20 L626.50,146.20 L627.00,146.20 L627.50,146.20 L628.00,146.20 L628.50,146.20 L629.00,146.20 L629.50,146.20 L630.00,146.20 L630.50,146.20 L631.00,146.20 L631.50,146.20 L632.00,146.20 L632.50,146.20 L633.00,146.20 L633.50,146.20 L634.00,146.20 L634.50,146.20 L635.00,146.20 L635.50,146.20 L636.00,146.20 L636.50,146.20 L637.00,146.20 L637.50,146.20 L638.00,146.20 L638.50,146.20 L639.00,146.20 L639.50,146.20 L640.00,146.20 L640.50,146.20 L641.00,146.20 L641.50,146.20 L642.00,146.20 L642.50,146.20 L643.00,146.20 L643.50,146.20 L644.00,146.20 L644.50,146.20 L645.00,146.20 L645.50,146.20 L646.00,146.20 L646.50,146.20 L647.00,146.20 L647.50,146.20 L648.00,146.20 L648.50,146.20 L649.00,146.20 L649.50,146.20 L650.00,146.20 L650.50,146.20 L651.00,146.20 L651.50,146.20 L652.00,146.20 L652.50,146.20 L653.00,146.20 L653.50,146.20 L654.00,146.20 L654.50,146.20 L655.00,146.20 L655.50,146.20 L656.00,146.20 L656.50,146.20 L657.00,146.20 L657.50,146.20 L658.00,146.20 L658.50,146.20 L659.00,146.20 L659.50,146.20 L660.00,146.20 L660.50,146.20 L661.00,146.20 L661.50,146.20 L662.00,146.20 L662.50,146.20 L663.00,146.20 L663.50,146.20 L664.00,146.20 L664.50,146.20 L665.00,146.20 L665.50,146.20 L666.00,146.20 L666.50,146.20 L667.00,146.20 L667.50,146.20 L668.00,146.20 L668.50,146.20 L669.00,146.20 L669.50,146.20 L670.00,146.20 L670.50,146.20 L671.00,146.20 L671.50,146.20 L672.00,146.20 L672.50,146.20 L673.00,146.20 L673.50,146.20 L674.00,146.20 L674.50,146.20 L675.00,146.20 L675.50,146.20 L676.00,146.20 L676.50,146.20 L677.00,146.20 L677.50,146.20 L678.00,146.20 L678.50,146.20 L679.00,146.20 L679.50,146.20 L680.00,146.20 L680.50,146.20" stroke="#0000ff" stroke-dasharray="16.4 4.1 8.4 4.1" stroke-dashoffset="1.4"/>
<path d="M54.50,146.30 L55.00,146.94 L55.50,147.61 L56.00,148.28 L56.50,148.95 L57.00,149.62 L57.50,150.29 L58.00,150.96 L58.50,151.63 L59.00,152.30 L59.50,152.97 L60.00,153.65 L60.50,154.32 L61.00,154.99 L61.50,155.66 L62.00,156.34 L62.50,157.01 L63.00,157.68 L63.50,158.35 L64.00,159.03 L64.50,159.70 L65.00,160.38 L65.50,161.05 L66.00,161.72 L66.50,162.40 L67.00,163.07 L67.50,163.74 L68.00,164.42 L68.50,165.09 L69.00,165.76 L69.50,166.43 L70.00,167.11 L70.50,167.78 L71.00,168.45 L71.50,169.12 L72.00,169.80 L72.50,170.47 L73.00,171.14 L73.50,171.81 L74.00,172.48 L74.50,173.15 L75.00,173.82 L75.50,174.49 L76.00,175.16 L76.50,175.82 L77.00,176.49 L77.50,177.16 L78.00,177.83 L78.50,178.49 L79.00,179.16 L79.50,179.82 L80.00,180.49 L80.50,181.15 L81.00,181.81 L81.50,182.47 L82.00,183.13 L82.50,183.79 L83.00,184.45 L83.50,185.11 L84.00,185.77 L84.50,186.43 L85.00,187.08 L85.50,187.74 L86.00,188.39 L86.50,189.04 L87.00,189.70 L87.50,190.35 L88.00,191.00 L88.50,191.65 L89.00,192.29 L89.50,192.94 L90.00,193.59 L90.50,194.23 L91.00,194.87 L91.50,195.52 L92.00,196.16 L92.50,196.80 L93.00,197.43 L93.50,198.07 L94.00,198.71 L94.50,199.34 L95.00,199.97 L95.50,200.60 L96.00,201.23 L96.50,201.86 L97.00,202.49 L97.50,203.12 L98.00,203.74 L98.50,204.36 L99.00,204.98 L99.50,205.60 L100.00,206.22 L100.50,206.83 L101.00,207.45 L101.50,208.06 L102.00,208.67 L102.50,209.28 L103.00,209.89 L103.50,210.49 L104.00,211.10 L104.50,211.70 L105.00,212.30 L105.50,212.90 L106.00,213.49 L106.50,214.09 L107.00,214.68 L107.50,215.27 L108.00,215.86 L108.50,216.44 L109.00,217.03 L109.50,217.61 L110.00,218.19 L110.50,218.77 L111.00,219.34 L111.50,219.92 L112.00,220.49 L112.50,221.06 L113.00,221.62 L113.50,222.19 L114.00,222.75 L114.50,223.31 L115.00,223.87 L115.50,224.42 L116.00,224.98 L116.50,225.53 L117.00,226.08 L117.50,226.62 L118.00,227.16 L118.50,227.70 L119.00,228.24 L119.50,228.78 L120.00,229.31 L120.50,229.84 L121.00,230.37 L121.50,230.89 L122.00,231.41 L122.50,231.93 L123.00,232.45 L123.50,232.96 L124.00,233.48 L124.50,233.98 L125.00,234.49 L125.50,234.99 L126.00,235.49 L126.50,235.99 L127.00,236.48 L127.50,236.98 L128.00,237.46 L128.50,237.95 L129.00,238.43 L129.50,238.91 L130.00,239.39 L130.50,239.86 L131.00,240.33 L131.50,240.80 L132.00,241.27 L132.50,241.73 L133.00,242.19 L133.50,242.64 L134.00,243.10 L134.50,243.54 L135.00,243.99 L135.50,244.44 L136.00,244.88 L136.50,245.31 L137.00,245.75 L137.50,246.18 L138.00,246.61 L138.50,247.03 L139.00,247.46 L139.50,247.88 L140.00,248.29 L140.50,248.70 L141.00,249.11 L141.50,249.52 L142.00,249.92 L142.50,250.32 L143.00,250.72 L143.50,251.11 L144.00,251.50 L144.50,251.89 L145.00,252.28 L145.50,252.66 L146.00,253.03 L146.50,253.41 L147.00,253.78 L147.50,254.15 L148.00,254.51 L148.50,254.87 L149.00,255.23 L149.50,255.59 L150.00,255.94 L150.50,256.28 L151.00,256.63 L151.50,256.97 L152.00,257.31 L152.50,257.64 L153.00,257.97 L153.50,258.30 L154.00,258.62 L154.50,258.94 L155.00,259.26 L155.50,259.57 L156.00,259.88 L156.50,260.19 L157.00,260.49 L157.50,260.79 L158.00,261.09 L158.50,261.38 L159.00,261.67 L159.50,261.96 L160.00,262.24 L160.50,262.52 L161.00,262.79 L161.50,263.07 L162.00,263.33 L162.50,263.60 L163.00,263.86 L163.50,264.11 L164.00,264.37 L164.50,264.62 L165.00,264.86 L165.50,265.11 L166.00,265.35 L166.50,265.58 L167.00,265.81 L167.50,266.04 L168.00,266.26 L168.50,266.48 L169.00,266.70 L169.50,266.91 L170.00,267.12 L170.50,267.33 L171.00,267.53 L171.50,267.73 L172.00,267.92 L172.50,268.11 L173.00,268.30 L173.50,268.48 L174.00,268.66 L174.50,268.83 L175.00,269.00 L175.50,269.17 L176.00,269.33 L176.50,269.49 L177.00,269.65 L177.50,269.80 L178.00,269.95 L178.50,270.09 L179.00,270.23 L179.50,270.37 L180.00,270.50 L180.50,270.63 L181.00,270.75 L181.50,270.87 L182.00,270.99 L182.50,271.10 L183.00,271.21 L183.50,271.31 L184.00,271.41 L184.50,271.51 L185.00,271.60 L185.50,271.69 L186.00,271.77 L186.50,271.85 L187.00,271.93 L187.50,272.00 L188.00,272.07 L188.50,272.13 L189.00,272.19 L189.50,272.25 L190.00,272.30 L190.50,272.34 L191.00,272.39 L191.50,272.43 L192.00,272.46 L192.50,272.49 L193.00,272.52 L193.50,272.54 L194.00,272.56 L194.50,272.58 L195.00,272.59 L195.50,272.59 L196.00,272.60 L196.50,272.59 L197.00,272.59 L197.50,272.58 L198.00,272.56 L198.50,272.55 L199.00,272.52 L199.50,272.50 L200.00,272.46 L200.50,272.43 L201.00,272.39 L201.50,272.35 L202.00,272.30 L202.50,272.25 L203.00,272.19 L203.50,272.13 L204.00,272.06 L204.50,271.99 L205.00,271.92 L205.50,271.84 L206.00,271.76 L206.50,271.68 L207.00,271.58 L207.50,271.49 L208.00,271.39 L208.50,271.29 L209.00,271.18 L209.50,271.07 L210.00,270.95 L210.50,270.83 L211.00,270.71 L211.50,270.58 L212.00,270.44 L212.50,270.30 L213.00,270.16 L213.50,270.02 L214.00,269.86 L214.50,269.71 L215.00,269.55 L215.50,269.39 L216.00,269.22 L216.50,269.05 L217.00,268.87 L217.50,268.69 L218.00,268.51 L218.50,268.32 L219.00,268.13 L219.50,267.93 L220.00,267.73 L220.50,267.53 L221.00,267.32 L221.50,267.10 L222.00,266.89 L222.50,266.67 L223.00,266.44 L223.50,266.21 L224.00,265.98 L224.50,265.74 L225.00,265.50 L225.50,265.26 L226.00,265.01 L226.50,264.76 L227.00,264.50 L227.50,264.24 L228.00,263.98 L228.50,263.71 L229.00,263.44 L229.50,263.16 L230.00,262.88 L230.50,262.60 L231.00,262.31 L231.50,262.02 L232.00,261.73 L232.50,261.43 L233.00,261.12 L233.50,260.82 L234.00,260.51 L234.50,260.20 L235.00,259.88 L235.50,259.56 L236.00,259.23 L236.50,258.90 L237.00,258.57 L237.50,258.24 L238.00,257.90 L238.50,257.55 L239.00,257.21 L239.50,256.86 L240.00,256.50 L240.50,256.15 L241.00,255.79 L241.50,255.42 L242.00,255.05 L242.50,254.68 L243.00,254.31 L243.50,253.93 L244.00,253.55 L244.50,253.16 L245.00,252.77 L245.50,252.38 L246.00,251.99 L246.50,251.59 L247.00,251.19 L247.50,250.78 L248.00,250.37 L248.50,249.96 L249.00,249.54 L249.50,249.12 L250.00,248.70 L250.50,248.27 L251.00,247.85 L251.50,247.41 L252.00,246.98 L252.50,246.54 L253.00,246.10 L253.50,245.65 L254.00,245.20 L254.50,244.75 L255.00,244.29 L255.50,243.84 L256.00,243.37 L256.50,242.91 L257.00,242.44 L257.50,241.97 L258.00,241.50 L258.50,241.02 L259.00,240.54 L259.50,240.06 L260.00,239.57 L260.50,239.08 L261.00,238.59 L261.50,238.09 L262.00,237.59 L262.50,237.09 L263.00,236.59 L263.50,236.08 L264.00,235.57 L264.50,235.05 L265.00,234.54 L265.50,234.02 L266.00,233.50 L266.50,232.97 L267.00,232.44 L267.50,231.91 L268.00,231.38 L268.50,230.84 L269.00,230.30 L269.50,229.76 L270.00,229.22 L270.50,228.67 L271.00,228.12 L271.50,227.57 L272.00,227.02 L272.50,226.46 L273.00,225.90 L273.50,225.34 L274.00,224.78 L274.50,224.21 L275.00,223.64 L275.50,223.07 L276.00,222.50 L276.50,221.93 L277.00,221.35 L277.50,220.77 L278.00,220.19 L278.50,219.61 L279.00,219.02 L279.50,218.43 L280.00,217.85 L280.50,217.26 L281.00,216.66 L281.50,216.07 L282.00,215.47 L282.50,214.88 L283.00,214.28 L283.50,213.68 L284.00,213.07 L284.50,212.47 L285.00,211.86 L285.50,211.26 L286.00,210.65 L286.50,210.04 L287.00,209.43 L287.50,208.81 L288.00,208.20 L288.50,207.58 L289.00,206.97 L289.50,206.35 L290.00,205.73 L290.50,205.11 L291.00,204.49 L291.50,203.86 L292.00,203.24 L292.50,202.62 L293.00,201.99 L293.50,201.36 L294.00,200.73 L294.50,200.11 L295.00,199.48 L295.50,198.85 L296.00,198.22 L296.50,197.58 L297.00,196.95 L297.50,196.32 L298.00,195.68 L298.50,195.05 L299.00,194.41 L299.50,193.77 L300.00,193.14 L300.50,192.50 L301.00,191.86 L301.50,191.22 L302.00,190.58 L302.50,189.94 L303.00,189.30 L303.50,188.65 L304.00,188.01 L304.50,187.37 L305.00,186.72 L305.50,186.08 L306.00,185.43 L306.50,184.78 L307.00,184.14 L307.50,183.49 L308.00,182.84 L308.50,182.19 L309.00,181.54 L309.50,180.89 L310.00,180.24 L310.50,179.59 L311.00,178.94 L311.50,178.29 L312.00,177.63 L312.50,176.98 L313.00,176.33 L313.50,175.67 L314.00,175.02 L314.50,174.36 L315.00,173.71 L315.50,173.05 L316.00,172.40 L316.50,171.74 L317.00,171.08 L317.50,170.43 L318.00,169.77 L318.50,169.11 L319.00,168.45 L319.50,167.79 L320.00,167.13 L320.50,166.47 L321.00,165.81 L321.50,165.15 L322.00,164.49 L322.50,163.83 L323.00,163.17 L323.50,162.51 L324.00,161.85 L324.50,161.19 L325.00,160.53 L325.50,159.87 L326.00,159.21 L326.50,158.54 L327.00,157.88 L327.50,157.22 L328.00,156.56 L328.50,155.90 L329.00,155.23 L329.50,154.57 L330.00,153.91 L330.50,153.25 L331.00,152.59 L331.50,151.93 L332.00,151.27 L332.50,150.61 L333.00,149.95 L333.50,149.29 L334.00,148.63 L334.50,147.97 L335.00,147.32 L335.50,146.66 L336.00,146.00 L336.50,145.35 L337.00,144.69 L337.50,144.04 L338.00,143.39 L338.50,142.74 L339.00,142.08 L339.50,141.43 L340.00,140.78 L340.50,140.14 L341.00,139.49 L341.50,138.84 L342.00,138.20 L342.50,137.55 L343.00,136.91 L343.50,136.27 L344.00,135.63 L344.50,134.99 L345.00,134.35 L345.50,133.72 L346.00,133.08 L346.50,132.45 L347.00,131.82 L347.50,131.19 L348.00,130.56 L348.50,129.93 L349.00,129.31 L349.50,128.68 L350.00,128.06 L350.50,127.44 L351.00,126.82 L351.50,126.21 L352.00,125.59 L352.50,124.98 L353.00,124.37 L353.50,123.76 L354.00,123.16 L354.50,122.55 L355.00,121.95 L355.50,121.35 L356.00,120.75 L356.50,120.16 L357.00,119.56 L357.50,118.97 L358.00,118.38 L358.50,117.80 L359.00,117.21 L359.50,116.63 L360.00,116.05 L360.50,115.47 L361.00,114.89 L361.50,114.32 L362.00,113.75 L362.50,113.18 L363.00,112.61 L363.50,112.04 L364.00,111.48 L364.50,110.92 L365.00,110.36 L365.50,109.80 L366.00,109.25 L366.50,108.70 L367.00,108.15 L367.50,107.60 L368.00,107.06 L368.50,106.51 L369.00,105.97 L369.50,105.43 L370.00,104.90 L370.50,104.36 L371.00,103.83 L371.50,103.30 L372.00,102.78 L372.50,102.25 L373.00,101.73 L373.50,101.21 L374.00,100.70 L374.50,100.18 L375.00,99.67 L375.50,99.16 L376.00,98.65 L376.50,98.15 L377.00,97.65 L377.50,97.15 L378.00,96.65 L378.50,96.16 L379.00,95.66 L379.50,95.17 L380.00,94.69 L380.50,94.20 L381.00,93.72 L381.50,93.24 L382.00,92.77 L382.50,92.30 L383.00,91.83 L383.50,91.36 L384.00,90.89 L384.50,90.43 L385.00,89.97 L385.50,89.52 L386.00,89.07 L386.50,88.62 L387.00,88.17 L387.50,87.73 L388.00,87.29 L388.50,86.85 L389.00,86.41 L389.50,85.98 L390.00,85.56 L390.50,85.13 L391.00,84.71 L391.50,84.29 L392.00,83.88 L392.50,83.47 L393.00,83.06 L393.50,82.65 L394.00,82.25 L394.50,81.85 L395.00,81.46 L395.50,81.07 L396.00,80.68 L396.50,80.30 L397.00,79.92 L397.50,79.54 L398.00,79.17 L398.50,78.80 L399.00,78.43 L399.50,78.07 L400.00,77.71 L400.50,77.36 L401.00,77.01 L401.50,76.66 L402.00,76.31 L402.50,75.97 L403.00,75.64 L403.50,75.31 L404.00,74.98 L404.50,74.65 L405.00,74.33 L405.50,74.01 L406.00,73.70 L406.50,73.39 L407.00,73.08 L407.50,72.78 L408.00,72.48 L408.50,72.19 L409.00,71.89 L409.50,71.61 L410.00,71.32 L410.50,71.04 L411.00,70.76 L411.50,70.49 L412.00,70.22 L412.50,69.96 L413.00,69.70 L413.50,69.44 L414.00,69.18 L414.50,68.93 L415.00,68.69 L415.50,68.44 L416.00,68.20 L416.50,67.97 L417.00,67.74 L417.50,67.51 L418.00,67.29 L418.50,67.07 L419.00,66.85 L419.50,66.64 L420.00,66.43 L420.50,66.22 L421.00,66.02 L421.50,65.82 L422.00,65.63 L422.50,65.44 L423.00,65.26 L423.50,65.07 L424.00,64.89 L424.50,64.72 L425.00,64.55 L425.50,64.38 L426.00,64.22 L426.50,64.06 L427.00,63.90 L427.50,63.75 L428.00,63.61 L428.50,63.46 L429.00,63.32 L429.50,63.19 L430.00,63.05 L430.50,62.92 L431.00,62.80 L431.50,62.68 L432.00,62.56 L432.50,62.45 L433.00,62.34 L433.50,62.23 L434.00,62.13 L434.50,62.03 L435.00,61.94 L435.50,61.85 L436.00,61.76 L436.50,61.68 L437.00,61.60 L437.50,61.53 L438.00,61.46 L438.50,61.39 L439.00,61.33 L439.50,61.27 L440.00,61.22 L440.50,61.16 L441.00,61.12 L441.50,61.07 L442.00,61.03 L442.50,61.00 L443.00,60.97 L443.50,60.94 L444.00,60.92 L444.50,60.90 L445.00,60.88 L445.50,60.87 L446.00,60.86 L446.50,60.85 L447.00,60.85 L447.50,60.86 L448.00,60.86 L448.50,60.87 L449.00,60.89 L449.50,60.91 L450.00,60.93 L450.50,60.96 L451.00,60.99 L451.50,61.02 L452.00,61.06 L452.50,61.10 L453.00,61.15 L453.50,61.20 L454.00,61.25 L454.50,61.31 L455.00,61.37 L455.50,61.43 L456.00,61.50 L456.50,61.57 L457.00,61.65 L457.50,61.73 L458.00,61.81 L458.50,61.90 L459.00,61.99 L459.50,62.09 L460.00,62.19 L460.50,62.29 L461.00,62.39 L461.50,62.50 L462.00,62.62 L462.50,62.74 L463.00,62.86 L463.50,62.98 L464.00,63.11 L464.50,63.25 L465.00,63.38 L465.50,63.52 L466.00,63.67 L466.50,63.82 L467.00,63.97 L467.50,64.13 L468.00,64.29 L468.50,64.45 L469.00,64.62 L469.50,64.79 L470.00,64.96 L470.50,65.14 L471.00,65.32 L471.50,65.51 L472.00,65.70 L472.50,65.89 L473.00,66.09 L473.50,66.29 L474.00,66.49 L474.50,66.70 L475.00,66.91 L475.50,67.13 L476.00,67.35 L476.50,67.57 L477.00,67.80 L477.50,68.03 L478.00,68.27 L478.50,68.50 L479.00,68.74 L479.50,68.99 L480.00,69.24 L480.50,69.49 L481.00,69.75 L481.50,70.00 L482.00,70.27 L482.50,70.53 L483.00,70.80 L483.50,71.07 L484.00,71.35 L484.50,71.63 L485.00,71.91 L485.50,72.19 L486.00,72.48 L486.50,72.77 L487.00,73.07 L487.50,73.36 L488.00,73.66 L488.50,73.97 L489.00,74.27 L489.50,74.58 L490.00,74.89 L490.50,75.21 L491.00,75.52 L491.50,75.84 L492.00,76.17 L492.50,76.49 L493.00,76.82 L493.50,77.15 L494.00,77.48 L494.50,77.82 L495.00,78.15 L495.50,78.49 L496.00,78.84 L496.50,79.18 L497.00,79.53 L497.50,79.88 L498.00,80.23 L498.50,80.58 L499.00,80.94 L499.50,81.30 L500.00,81.66 L500.50,82.02 L501.00,82.39 L501.50,82.75 L502.00,83.12 L502.50,83.49 L503.00,83.86 L503.50,84.24 L504.00,84.61 L504.50,84.99 L505.00,85.37 L505.50,85.75 L506.00,86.14 L506.50,86.52 L507.00,86.91 L507.50,87.30 L508.00,87.69 L508.50,88.08 L509.00,88.48 L509.50,88.87 L510.00,89.27 L510.50,89.67 L511.00,90.07 L511.50,90.48 L512.00,90.88 L512.50,91.29 L513.00,91.70 L513.50,92.11 L514.00,92.52 L514.50,92.94 L515.00,93.36 L515.50,93.78 L516.00,94.20 L516.50,94.62 L517.00,95.04 L517.50,95.47 L518.00,95.90 L518.50,96.33 L519.00,96.76 L519.50,97.19 L520.00,97.63 L520.50,98.07 L521.00,98.51 L521.50,98.95 L522.00,99.39 L522.50,99.84 L523.00,100.28 L523.50,100.73 L524.00,101.18 L524.50,101.63 L525.00,102.08 L525.50,102.54 L526.00,102.99 L526.50,103.45 L527.00,103.91 L527.50,104.37 L528.00,104.83 L528.50,105.29 L529.00,105.76 L529.50,106.22 L530.00,106.69 L530.50,107.16 L531.00,107.63 L531.50,108.10 L532.00,108.57 L532.50,109.04 L533.00,109.52 L533.50,109.99 L534.00,110.47 L534.50,110.95 L535.00,111.42 L535.50,111.90 L536.00,112.38 L536.50,112.87 L537.00,113.35 L537.50,113.83 L538.00,114.32 L538.50,114.80 L539.00,115.29 L539.50,115.77 L540.00,116.26 L540.50,116.75 L541.00,117.24 L541.50,117.73 L542.00,118.22 L542.50,118.71 L543.00,119.21 L543.50,119.70 L544.00,120.19 L544.50,120.69 L545.00,121.18 L545.50,121.68 L546.00,122.17 L546.50,122.67 L547.00,123.16 L547.50,123.66 L548.00,124.16 L548.50,124.66 L549.00,125.15 L549.50,125.65 L550.00,126.15 L550.50,126.65 L551.00,127.15 L551.50,127.65 L552.00,128.15 L552.50,128.65 L553.00,129.15 L553.50,129.65 L554.00,130.15 L554.50,130.65 L555.00,131.15 L555.50,131.65 L556.00,132.15 L556.50,132.65 L557.00,133.15 L557.50,133.66 L558.00,134.16 L558.50,134.66 L559.00,135.16 L559.50,135.66 L560.00,136.16 L560.50,136.66 L561.00,137.16 L561.50,137.65 L562.00,138.15 L562.50,138.65 L563.00,139.15 L563.50,139.65 L564.00,140.15 L564.50,140.64 L565.00,141.14 L565.50,141.64 L566.00,142.13 L566.50,142.63 L567.00,143.12 L567.50,143.62 L568.00,144.11 L568.50,144.60 L569.00,145.10 L569.50,145.59 L570.00,146.08 L570.50,146.57 L571.00,147.06 L571.50,147.55 L572.00,148.04 L572.50,148.52 L573.00,149.01 L573.50,149.50 L574.00,149.98 L574.50,150.46 L575.00,150.95 L575.50,151.43 L576.00,151.91 L576.50,152.39 L577.00,152.87 L577.50,153.35 L578.00,153.82 L578.50,154.30 L579.00,154.77 L579.50,155.25 L580.00,155.72 L580.50,156.19 L581.00,156.66 L581.50,157.13 L582.00,157.60 L582.50,158.06 L583.00,158.53 L583.50,158.99 L584.00,159.45 L584.50,159.91 L585.00,160.37 L585.50,160.83 L586.00,161.29 L586.50,161.74 L587.00,162.19 L587.50,162.65 L588.00,163.10 L588.50,163.54 L589.00,163.99 L589.50,164.44 L590.00,164.88 L590.50,165.32 L591.00,165.76 L591.50,166.20 L592.00,166.64 L592.50,167.07 L593.00,167.50 L593.50,167.93 L594.00,168.36 L594.50,168.79 L595.00,169.22 L595.50,169.64 L596.00,170.06 L596.50,170.48 L597.00,170.90 L597.50,171.31 L598.00,171.73 L598.50,172.14 L599.00,172.55 L599.50,172.95 L600.00,173.36 L600.50,173.76 L601.00,174.16 L601.50,174.56 L602.00,174.96 L602.50,175.35 L603.00,175.74 L603.50,176.13 L604.00,176.52 L604.50,176.90 L605.00,177.28 L605.50,177.66 L606.00,178.04 L606.50,178.41 L607.00,178.79 L607.50,179.15 L608.00,179.52 L608.50,179.89 L609.00,180.25 L609.50,180.61 L610.00,180.96 L610.50,181.32 L611.00,181.67 L611.50,182.02 L612.00,182.36 L612.50,182.71 L613.00,183.05 L613.50,183.38 L614.00,183.72 L614.50,184.05 L615.00,184.38 L615.50,184.70 L616.00,185.03 L616.50,185.35 L617.00,185.66 L617.50,185.98 L618.00,186.29 L618.50,186.60 L619.00,186.90 L619.50,187.20 L620.00,187.50 L620.50,187.80 L621.00,188.09 L621.50,188.38 L622.00,188.67 L622.50,188.95 L623.00,189.23 L623.50,189.51 L624.00,189.78 L624.50,190.05 L625.00,190.32 L625.50,190.58 L626.00,190.84 L626.50,191.10 L627.00,191.35 L627.50,191.60 L628.00,191.84 L628.50,192.09 L629.00,192.33 L629.50,192.56 L630.00,192.79 L630.50,193.02 L631.00,193.25 L631.50,193.47 L632.00,193.68 L632.50,193.90 L633.00,194.11 L633.50,194.31 L634.00,194.52 L634.50,194.72 L635.00,194.91 L635.50,195.10 L636.00,195.29 L636.50,195.47 L637.00,195.65 L637.50,195.83 L638.00,196.00 L638.50,196.17 L639.00,196.33 L639.50,196.49 L640.00,196.65 L640.50,196.80 L641.00,196.94 L641.50,197.09 L642.00,197.23 L642.50,197.36 L643.00,197.49 L643.50,197.62 L644.00,197.75 L644.50,197.87 L645.00,197.98 L645.50,198.10 L646.00,198.21 L646.50,198.31 L647.00,198.41 L647.50,198.51 L648.00,198.61 L648.50,198.70 L649.00,198.79 L649.50,198.88 L650.00,198.96 L650.50,199.04 L651.00,199.12 L651.50,199.19 L652.00,199.26 L652.50,199.33 L653.00,199.40 L653.50,199.46 L654.00,199.52 L654.50,199.58 L655.00,199.64 L655.50,199.69 L656.00,199.74 L656.50,199.79 L657.00,199.83 L657.50,199.88 L658.00,199.92 L658.50,199.96 L659.00,200.00 L659.50,200.03 L660.00,200.07 L660.50,200.10 L661.00,200.13 L661.50,200.16 L662.00,200.18 L662.50,200.21 L663.00,200.23 L663.50,200.25 L664.00,200.27 L664.50,200.29 L665.00,200.31 L665.50,200.33 L666.00,200.34 L666.50,200.36 L667.00,200.37 L667.50,200.38 L668.00,200.39 L668.50,200.40 L669.00,200.41 L669.50,200.42 L670.00,200.43 L670.50,200.44 L671.00,200.44 L671.50,200.45 L672.00,200.46 L672.50,200.46 L673.00,200.46 L673.50,200.47 L674.00,200.47 L674.50,200.48 L675.00,200.48 L675.50,200.48 L676.00,200.49 L676.50,200.49 L677.00,200.49 L677.50,200.50 L678.00,200.50 L678.50,200.51 L679.00,200.51 L679.50,200.51 L680.00,200.52 L680.50,200.53" stroke="#00ff00" stroke-dasharray="15.8 16.53" stroke-dashoffset="0.4"/>
</g>
<g font-family="'Liberation Sans', sans-serif" font-weight="bold" font-size="20.6px" fill="#000" stroke="#000" stroke-width="0.2">
<text x="54.50" y="349.8" text-anchor="middle">0</text>
<text x="132.75" y="349.8" text-anchor="middle">0.5</text>
<text x="211.00" y="349.8" text-anchor="middle">1</text>
<text x="289.25" y="349.8" text-anchor="middle">1.5</text>
<text x="367.50" y="349.8" text-anchor="middle">2</text>
<text x="445.75" y="349.8" text-anchor="middle">2.5</text>
<text x="524.00" y="349.8" text-anchor="middle">3</text>
<text x="602.25" y="349.8" text-anchor="middle">3.5</text>
<text x="680.50" y="349.8" text-anchor="middle">4</text>
<text x="47.3" y="322.40" text-anchor="end" dy="0.36em">30</text>
<text x="47.3" y="263.80" text-anchor="end" dy="0.36em">40</text>
<text x="47.3" y="205.20" text-anchor="end" dy="0.36em">50</text>
<text x="47.3" y="146.60" text-anchor="end" dy="0.36em">60</text>
<text x="47.3" y="88.00" text-anchor="end" dy="0.36em">70</text>
<text x="47.3" y="29.40" text-anchor="end" dy="0.36em">80</text>
</g>
<g font-family="'Liberation Serif', serif" font-weight="bold" fill="#000">
<text x="367.5" y="18.2" text-anchor="middle" font-size="27px" word-spacing="3.7px">CASE-1 AREA-2</text>
<text x="367.5" y="375.5" text-anchor="middle" font-size="22px">Time</text>
<text transform="translate(15.2,176.4) rotate(-90)" text-anchor="middle" font-size="22px">Frequency</text>
</g>
<g>
<rect x="400.5" y="177.4" width="123.4" height="96.3" fill="#fff" stroke="#3c3c3c" stroke-width="1"/>
<g stroke-width="4" fill="none">
<line x1="404.7" y1="194.2" x2="445.9" y2="194.2" stroke="#ff0000"/>
<line x1="404.7" y1="225.5" x2="445.9" y2="225.5" stroke="#0000ff" stroke-dasharray="16.4 4.1 8.4 4.1"/>
<line x1="404.7" y1="256.6" x2="445.9" y2="256.6" stroke="#00ff00" stroke-dasharray="15.8 16.53"/>
</g>
<g font-family="'Liberation Serif', serif" font-weight="bold" font-size="26.5px" fill="#000" letter-spacing="0.35px">
<text x="449" y="203.5">case a</text>
<text x="449" y="234.5">case b</text>
<text x="449" y="265.5">case c</text>
</g>
</g>
</svg>
</div></body></html>
